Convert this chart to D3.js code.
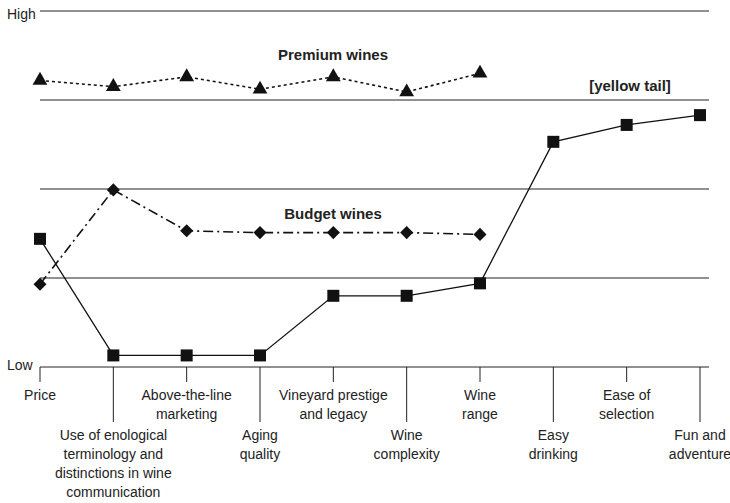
<html>
<head>
<script src="https://d3js.org/d3.v7.min.js"></script>
<style>
  body { margin: 0; background: #fff; }
  text { font-family: "Liberation Sans", Arial, sans-serif; fill: #222; }
</style>
</head>
<body>
<svg id="svg" width="730" height="503"></svg>
<script>
// **** Data ****
const categories = [
  ['Price'],
  ['Use of enological', 'terminology and', 'distinctions in wine', 'communication'],
  ['Above-the-line', 'marketing'],
  ['Aging', 'quality'],
  ['Vineyard prestige', 'and legacy'],
  ['Wine', 'complexity'],
  ['Wine', 'range'],
  ['Easy', 'drinking'],
  ['Ease of', 'selection'],
  ['Fun and', 'adventure']
]
const premium = [3.22, 3.15, 3.26, 3.12, 3.26, 3.09, 3.3]
const budget = [0.93, 1.99, 1.53, 1.51, 1.51, 1.51, 1.49]
const yellowTail = [1.44, 0.13, 0.13, 0.13, 0.80, 0.80, 0.94, 2.53, 2.72, 2.83]
const gridValues = [0, 1, 2, 3, 4]

const svg = d3.select('#svg')
const x = d3.scalePoint().domain(d3.range(categories.length)).range([40, 700])
const y = d3.scaleLinear().domain([0, 4]).range([367, 11])

// grid
svg.selectAll('line.grid').data(gridValues).enter().append('line')
  .attr('x1', 40).attr('x2', 709)
  .attr('y1', d => y(d)).attr('y2', d => y(d))
  .attr('stroke', '#222').attr('stroke-width', 1)
svg.append('text').attr('x', 7).attr('y', y(4) + 8).attr('font-size', 14).text('High')
svg.append('text').attr('x', 7).attr('y', y(0) + 3).attr('font-size', 14).text('Low')

// ticks + labels
categories.forEach((lines, i) => {
  const lower = i % 2 === 1
  svg.append('line').attr('x1', x(i)).attr('x2', x(i))
    .attr('y1', y(0)).attr('y2', lower ? 422 : 382)
    .attr('stroke', '#222')
  lines.forEach((t, j) => {
    svg.append('text').attr('x', x(i)).attr('y', (lower ? 440 : 400) + j * 19)
      .attr('text-anchor', 'middle').attr('font-size', 14).text(t)
  })
})

const line = d3.line().x((d, i) => x(i)).y(d => y(d))
function series(data, dash, symbol, size) {
  svg.append('path').datum(data).attr('d', line)
    .attr('fill', 'none').attr('stroke', '#111').attr('stroke-width', 1.6)
    .attr('stroke-dasharray', dash)
  svg.selectAll(null).data(data).enter().append('path')
    .attr('d', d3.symbol().type(symbol).size(size))
    .attr('transform', (d, i) => `translate(${x(i)},${y(d)})` + (symbol === d3.symbolSquare ? ' rotate(45)' : ''))
    .attr('fill', '#111')
}
series(premium, '3,3', d3.symbolTriangle, 95)
svg.selectAll(null).data(budget).enter().append('path')
series(budget, '10,4,2,4', d3.symbolSquare, 85)
// yellow tail squares (unrotated)
svg.append('path').datum(yellowTail).attr('d', line)
  .attr('fill', 'none').attr('stroke', '#111').attr('stroke-width', 1.3)
svg.selectAll(null).data(yellowTail).enter().append('rect')
  .attr('x', (d, i) => x(i) - 6).attr('y', d => y(d) - 6)
  .attr('width', 12).attr('height', 12).attr('fill', '#111')

svg.append('text').attr('x', 333).attr('y', 60).attr('text-anchor', 'middle')
  .attr('font-size', 15).attr('font-weight', 'bold').text('Premium wines')
svg.append('text').attr('x', 333).attr('y', 219).attr('text-anchor', 'middle')
  .attr('font-size', 15).attr('font-weight', 'bold').text('Budget wines')
svg.append('text').attr('x', 630).attr('y', 91).attr('text-anchor', 'middle')
  .attr('font-size', 15).attr('font-weight', 'bold').text('[yellow tail]')
</script>
</body>
</html>
